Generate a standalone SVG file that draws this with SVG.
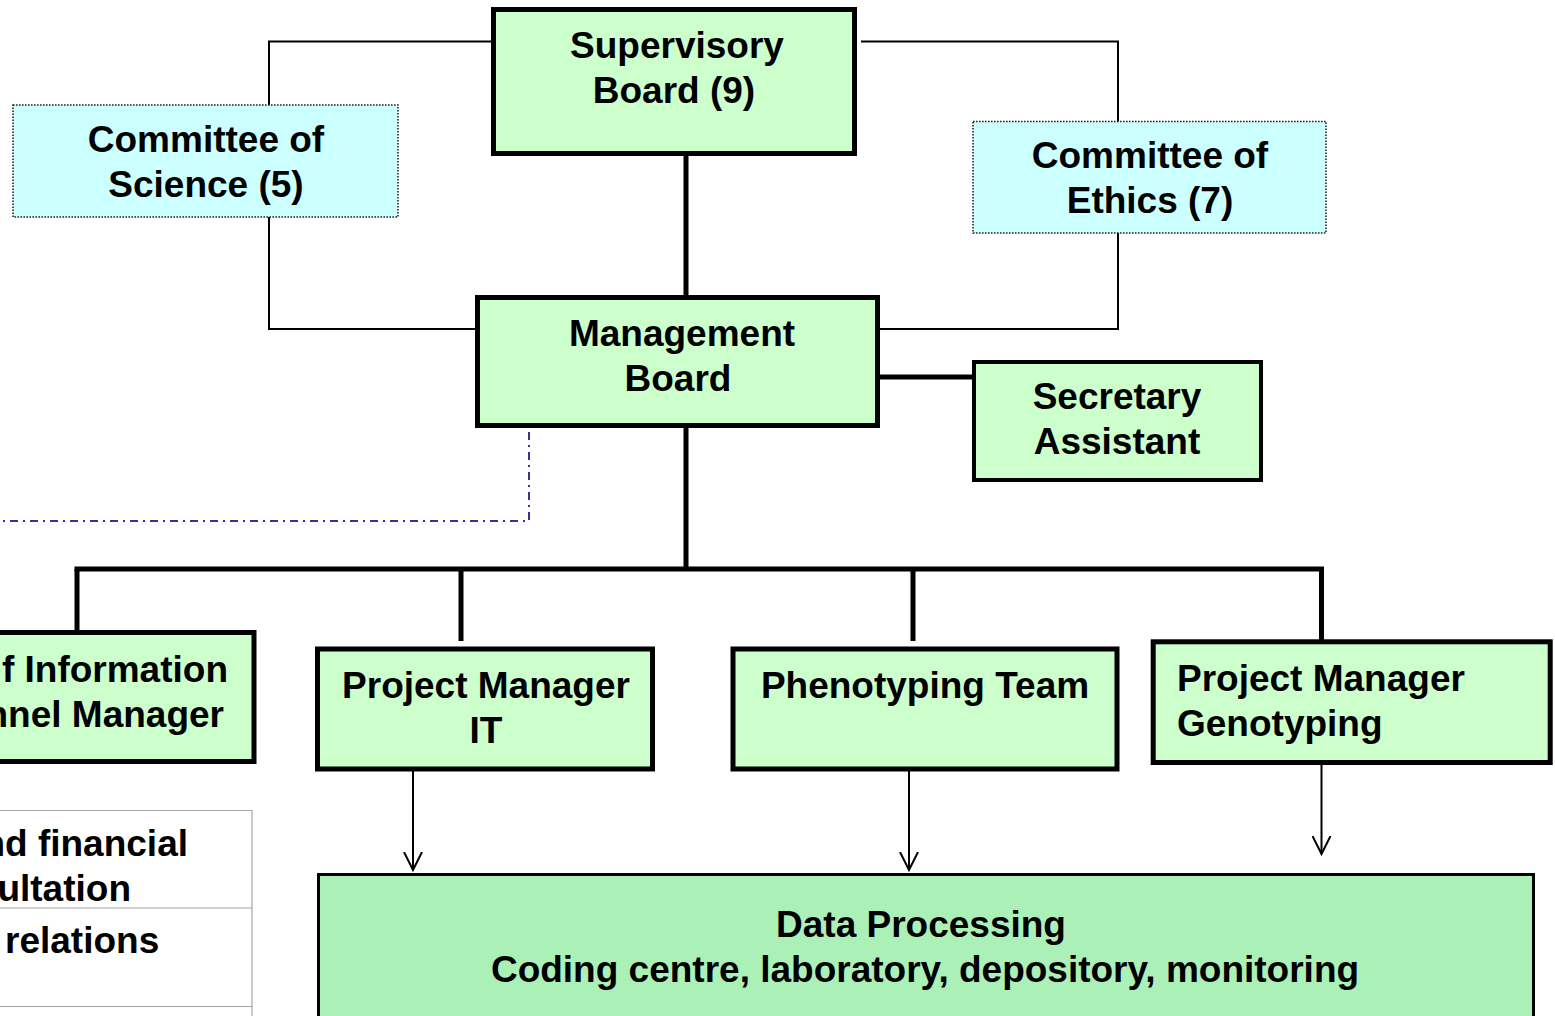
<svg xmlns="http://www.w3.org/2000/svg" width="1555" height="1016" viewBox="0 0 1555 1016">
<style>
text{font-family:"Liberation Sans",Arial,Helvetica,sans-serif;font-weight:bold;font-size:37px;fill:#000}
.c{text-anchor:middle}
.e{text-anchor:end}
.box{fill:#ccffcc;stroke:#000;stroke-width:5}
.com{fill:#ccffff;stroke:#222;stroke-width:1.6;stroke-dasharray:1.6 1.4}
.thin{fill:none;stroke:#000;stroke-width:2}
.thick{fill:none;stroke:#000;stroke-width:5}
.arr{fill:none;stroke:#000;stroke-width:2;marker-end:url(#vee)}
.dd{fill:none;stroke:#333399;stroke-width:2;stroke-dasharray:8 5 2 5}
.grid{fill:none;stroke:#a6a6a6;stroke-width:1.2}
</style>
<defs>
<marker id="vee" viewBox="0 0 20 20" refX="18" refY="10" markerWidth="20" markerHeight="20" markerUnits="userSpaceOnUse" orient="auto">
<path d="M0,1 L18,10 L0,19" fill="none" stroke="#000" stroke-width="2"/>
</marker>
</defs>
<rect width="1555" height="1016" fill="#fff"/>

<g id="connectors">
<polyline class="thin" points="498,41.5 269,41.5 269,329 475,329"/>
<polyline class="thin" points="861,41.5 1118,41.5 1118,329 880,329"/>
<line class="thick" x1="686" y1="154" x2="686" y2="297"/>
<line class="thick" x1="878" y1="377" x2="974" y2="377"/>
<line class="thick" x1="686" y1="426" x2="686" y2="569"/>
<line class="thick" x1="74.5" y1="569" x2="1324" y2="569"/>
<line class="thick" x1="77" y1="569" x2="77" y2="633"/>
<line class="thick" x1="461" y1="569" x2="461" y2="641"/>
<line class="thick" x1="913" y1="569" x2="913" y2="641"/>
<line class="thick" x1="1321.5" y1="569" x2="1321.5" y2="642"/>
<polyline class="dd" points="529,432 529,521 0,521"/>
<line class="arr" x1="413" y1="762" x2="413" y2="870"/>
<line class="arr" x1="909" y1="762" x2="909" y2="870"/>
<line class="arr" x1="1321.5" y1="765" x2="1321.5" y2="854"/>
</g>

<g id="table">
<polyline class="grid" points="0,810.5 252,810.5 252,1016"/>
<line class="grid" x1="0" y1="908" x2="252" y2="908"/>
<line class="grid" x1="0" y1="1006.5" x2="252" y2="1006.5"/>
<text class="e" x="188" y="856">nd financial</text>
<text class="e" x="131" y="901">ultation</text>
<text x="5" y="953">relations</text>
</g>

<g id="supervisory-board">
<rect class="box" x="493.5" y="9.5" width="361" height="144"/>
<text class="c" x="677" y="58">Supervisory</text>
<text class="c" x="674" y="103">Board (9)</text>
</g>

<g id="committee-science">
<rect class="com" x="13" y="105" width="385" height="112"/>
<text class="c" x="206" y="152">Committee of</text>
<text class="c" x="206" y="197">Science (5)</text>
</g>

<g id="committee-ethics">
<rect class="com" x="973" y="121.5" width="353" height="111.5"/>
<text class="c" x="1150" y="168">Committee of</text>
<text class="c" x="1150" y="213">Ethics (7)</text>
</g>

<g id="management-board">
<rect class="box" x="477.5" y="297.5" width="400" height="128"/>
<text class="c" x="682" y="346">Management</text>
<text class="c" x="678" y="391">Board</text>
</g>

<g id="secretary-assistant">
<rect class="box" x="974" y="362" width="287" height="118" style="stroke-width:4"/>
<text class="c" x="1117" y="409">Secretary</text>
<text class="c" x="1117" y="454">Assistant</text>
</g>

<g id="info-manager">
<rect class="box" x="-10" y="632.5" width="264" height="129"/>
<text class="e" x="228" y="682">f Information</text>
<text class="e" x="224" y="727">nnel Manager</text>
</g>

<g id="pm-it">
<rect class="box" x="317.5" y="649" width="335" height="120"/>
<text class="c" x="486" y="698">Project Manager</text>
<text class="c" x="486" y="743">IT</text>
</g>

<g id="phenotyping-team">
<rect class="box" x="733" y="649" width="384" height="120"/>
<text class="c" x="925" y="698">Phenotyping Team</text>
</g>

<g id="pm-genotyping">
<rect class="box" x="1153.2" y="641.8" width="397" height="120.7"/>
<text x="1177" y="691">Project Manager</text>
<text x="1177" y="736">Genotyping</text>
</g>

<g id="data-processing">
<rect x="318.5" y="874.5" width="1215" height="160" fill="#abf1b7" stroke="#000" stroke-width="3"/>
<text class="c" x="921" y="937">Data Processing</text>
<text class="c" x="925" y="982">Coding centre, laboratory, depository, monitoring</text>
</g>
</svg>
